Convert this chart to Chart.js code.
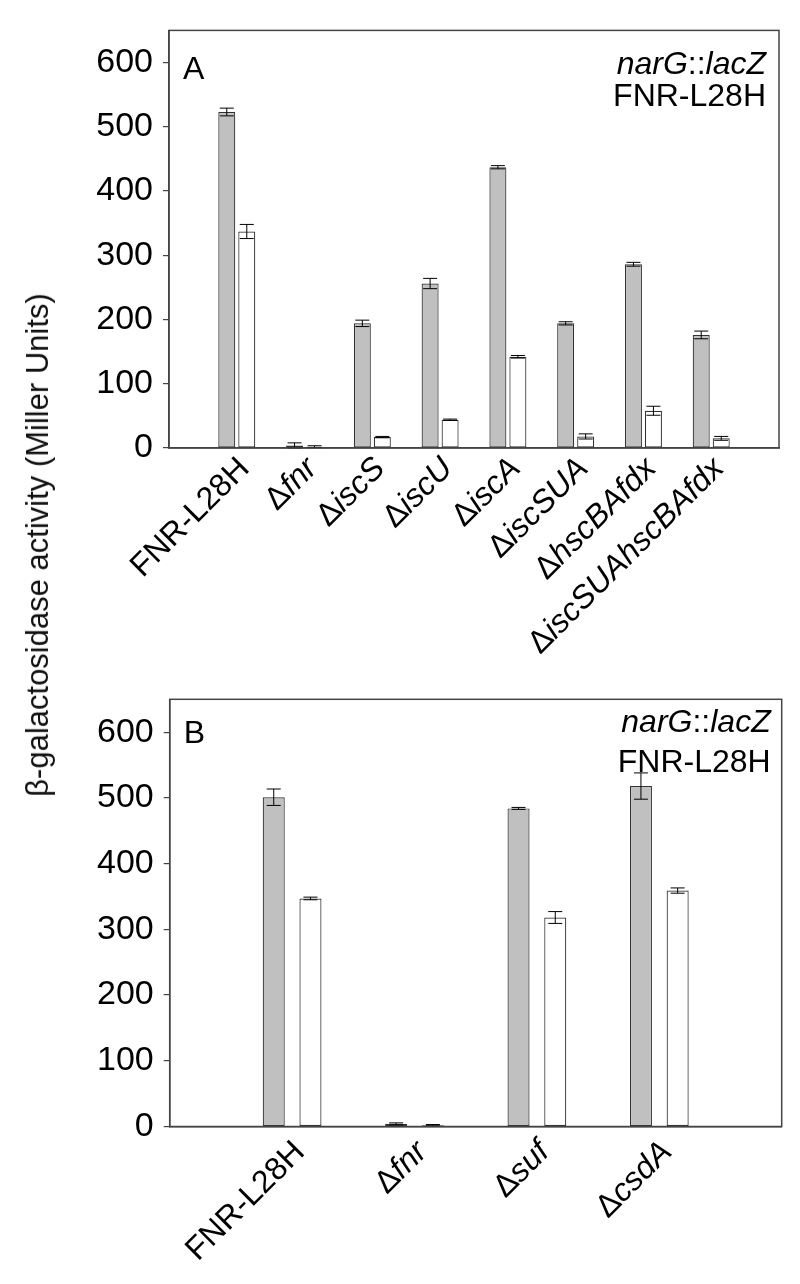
<!DOCTYPE html>
<html>
<head>
<meta charset="utf-8">
<script src="https://cdn.jsdelivr.net/npm/chart.js@4.4.0/dist/chart.umd.min.js"></script>
<style>
    body { margin: 0; background: #fff; }
    #wrap { position: relative; width: 800px; height: 1284px; overflow: hidden; }
    canvas { position: absolute; left: 0; }
    #chartA { top: 0; }
    #chartB { top: 660px; }
    #ytitle {
        position: absolute; left: 38px; top: 545px;
        transform: translate(-50%, -50%) rotate(-90deg);
        font: 31px "Liberation Sans", Arial, sans-serif;
        white-space: nowrap; color: #111;
    }
</style>
</head>
<body>
<div id="wrap">
    <canvas id="chartA" width="800" height="660"></canvas>
    <canvas id="chartB" width="800" height="624"></canvas>
    <div id="ytitle">β-galactosidase activity (Miller Units)</div>
</div>
<script>
// Panel A: isc mutants
const labelsA = ['FNR-L28H', 'Δfnr', 'ΔiscS', 'ΔiscU', 'ΔiscA', 'ΔiscSUA', 'ΔhscBAfdx', 'ΔiscSUAhscBAfdx'];
const grayA = [523, 4, 194, 256, 437, 194, 286, 176];
const grayErrA = [6, 4, 5, 8, 2.5, 2.5, 3, 6];
const whiteA = [337, 2, 17, 44, 142, 18, 58, 15];
const whiteErrA = [11, 1.5, 1, 1, 2, 4, 7, 3];

// Panel B: suf / csdA
const labelsB = ['FNR-L28H', 'Δfnr', 'Δsuf', 'ΔcsdA'];
const grayB = [501, 4, 484, 518];
const grayErrB = [12.5, 1.5, 1.5, 20];
const whiteB = [347, 2, 318, 359];
const whiteErrB = [2, 1, 9, 4];

const yTicks = [0, 100, 200, 300, 400, 500, 600];

const FONT = '"Liberation Sans", Arial, sans-serif';
const UPRIGHT = '32px ' + FONT;
const ITALIC = 'italic 32px ' + FONT;
const AXIS_COLOR = '#444';

// empty slot at each end so the groups sit like the original
const pad = arr => [null, ...arr, null];

function splitLabel(text) {
    if (text.startsWith('Δ')) return [['Δ', UPRIGHT], [text.slice(1), ITALIC]];
    return [[text, UPRIGHT]];
}

// draws text made of parts with different fonts, right-aligned at (x, y)
function drawParts(ctx, parts, x, y, angle) {
    ctx.save();
    ctx.translate(x, y);
    ctx.rotate(angle);
    ctx.fillStyle = '#000';
    ctx.textBaseline = 'alphabetic';
    ctx.textAlign = 'left';
    let total = 0;
    parts.forEach(([t, f]) => { ctx.font = f; total += ctx.measureText(t).width; });
    let cx = -total;
    parts.forEach(([t, f]) => {
        ctx.font = f;
        ctx.fillText(t, cx, 0);
        cx += ctx.measureText(t).width;
    });
    ctx.restore();
}

const framePlugin = {
    id: 'frame',
    afterDraw(chart) {
        const { ctx, chartArea: a } = chart;
        ctx.save();
        ctx.strokeStyle = AXIS_COLOR;
        ctx.lineWidth = 1.5;
        ctx.strokeRect(a.left, a.top, a.right - a.left, a.bottom - a.top);
        ctx.restore();
    }
};

const errorBarPlugin = {
    id: 'errorBars',
    afterDatasetsDraw(chart) {
        const { ctx } = chart;
        const yScale = chart.scales.y;
        ctx.save();
        ctx.strokeStyle = '#000';
        ctx.lineWidth = 1;
        chart.data.datasets.forEach((ds, di) => {
            const meta = chart.getDatasetMeta(di);
            meta.data.forEach((bar, i) => {
                const v = ds.data[i];
                const err = ds.errors[i];
                if (v == null || err == null) return;
                const x = bar.x;
                const yTop = yScale.getPixelForValue(v + err);
                const yBot = yScale.getPixelForValue(Math.max(0, v - err));
                const cap = 7;
                ctx.beginPath();
                ctx.moveTo(x, yTop); ctx.lineTo(x, yBot);
                ctx.moveTo(x - cap, yTop); ctx.lineTo(x + cap, yTop);
                ctx.moveTo(x - cap, yBot); ctx.lineTo(x + cap, yBot);
                ctx.stroke();
            });
        });
        ctx.restore();
    }
};

const textPlugin = {
    id: 'panelText',
    afterDraw(chart) {
        const { ctx, chartArea: a } = chart;
        const o = chart.options.plugins.panelText;
        const xScale = chart.scales.x;

        // rotated category labels
        chart.data.labels.forEach((lab, i) => {
            if (!lab) return;
            const px = xScale.getPixelForValue(i);
            drawParts(ctx, splitLabel(lab), px + o.dx, a.bottom + o.dy, -Math.PI / 4);
        });

        // panel letter
        ctx.save();
        ctx.font = UPRIGHT;
        ctx.fillStyle = '#000';
        ctx.textAlign = 'left';
        ctx.fillText(o.letter, a.left + 14, a.top + o.letterY);
        ctx.restore();

        // strain annotation
        drawParts(ctx, [['narG', ITALIC], ['::', UPRIGHT], ['lacZ', ITALIC]], a.right - o.noteX, a.top + o.note1Y, 0);
        drawParts(ctx, [['FNR-L28H', UPRIGHT]], a.right - o.noteX, a.top + o.note2Y, 0);
    }
};

function makeChart(id, labels, gray, grayErr, white, whiteErr, cfg) {
    return new Chart(document.getElementById(id), {
        type: 'bar',
        data: {
            labels: ['', ...labels, ''],
            datasets: [
                {
                    data: pad(gray), errors: pad(grayErr),
                    backgroundColor: '#c0c0c0', borderColor: '#333', borderWidth: 1.2,
                    borderSkipped: false,
                    categoryPercentage: cfg.cp, barPercentage: cfg.bp
                },
                {
                    data: pad(white), errors: pad(whiteErr),
                    backgroundColor: '#fff', borderColor: '#333', borderWidth: 1.2,
                    borderSkipped: false,
                    categoryPercentage: cfg.cp, barPercentage: cfg.bp
                }
            ]
        },
        options: {
            responsive: false,
            animation: false,
            events: [],
            layout: { autoPadding: false, padding: { left: 0, right: cfg.right, top: cfg.top, bottom: 0 } },
            plugins: {
                legend: { display: false },
                tooltip: { enabled: false },
                panelText: cfg.text
            },
            scales: {
                x: {
                    offset: false,
                    afterFit: s => { s.height = cfg.xHeight; },
                    grid: { display: false },
                    border: { color: AXIS_COLOR, width: 1.5 },
                    ticks: { display: false }
                },
                y: {
                    min: 0,
                    max: 650,
                    afterBuildTicks: s => { s.ticks = yTicks.map(v => ({ value: v })); },
                    afterFit: s => { s.width = cfg.yWidth; },
                    grid: { drawOnChartArea: false, drawTicks: true, tickLength: 6, color: AXIS_COLOR, lineWidth: 1.2 },
                    border: { color: AXIS_COLOR, width: 1.5 },
                    ticks: { font: { family: FONT, size: 34 }, color: '#000', padding: 10 }
                }
            }
        },
        plugins: [errorBarPlugin, framePlugin, textPlugin]
    });
}

makeChart('chartA', labelsA, grayA, grayErrA, whiteA, whiteErrA, {
    cp: 0.59, bp: 0.85, right: 21, top: 21.5, xHeight: 212, yWidth: 169,
    text: { dx: 14, dy: 22, letter: 'A', letterY: 48.5, noteX: 13, note1Y: 43.5, note2Y: 76 }
});

makeChart('chartB', labelsB, grayB, grayErrB, whiteB, whiteErrB, {
    cp: 0.60, bp: 0.6, right: 18.3, top: 39.3, xHeight: 157.5, yWidth: 169.7,
    text: { dx: 14, dy: 27, letter: 'B', letterY: 44, noteX: 11, note1Y: 32.4, note2Y: 72.4 }
});
</script>
</body>
</html>
